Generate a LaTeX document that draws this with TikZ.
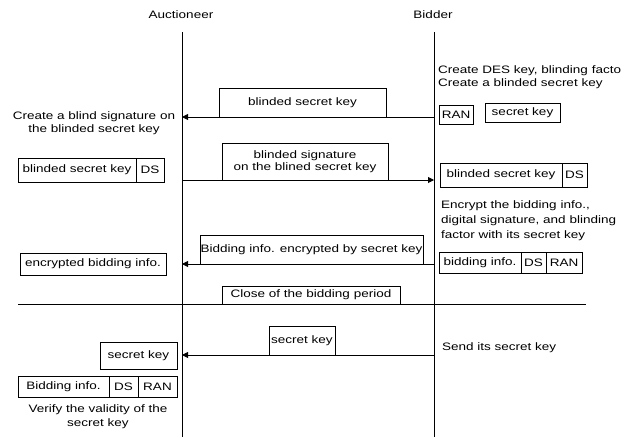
\documentclass[tikz,border=0pt]{standalone}
\usepackage{fontspec}
\setmainfont{Liberation Sans}[FakeStretch=1.25]
\usetikzlibrary{arrows.meta}

\begin{document}
\begin{tikzpicture}[x=1pt, y=-1pt,
    txt/.style={inner sep=0pt, font=\fontsize{10.8}{14}\selectfont},
    cell/.style={draw, line width=0.9pt, inner sep=0pt, fill=white,
                 font=\fontsize{10.8}{13}\selectfont},
    life/.style={line width=0.9pt},
    msg/.style={line width=0.9pt, -{Triangle[length=6pt,width=6pt]}},
  ]
  \useasboundingbox (0,0) rectangle (624,437);

  % participants and lifelines
  \node[txt] (auct) at (181,15) {Auctioneer};
  \node[txt] (bidd) at (433,15) {Bidder};
  \coordinate (aTop) at (182,32);
  \coordinate (aBot) at (182,437);
  \coordinate (bTop) at (434,32);
  \coordinate (bBot) at (434,437);
  \draw[life] (aTop) -- (aBot);
  \draw[life] (bTop) -- (bBot);

  % message end points on the lifelines
  \coordinate (b1) at (434,117); \coordinate (a1) at (182,117);
  \coordinate (a2) at (182,180); \coordinate (b2) at (434,180);
  \coordinate (b3) at (434,264); \coordinate (a3) at (182,264);
  \coordinate (b4) at (434,355); \coordinate (a4) at (182,355);

  % separator at the close of the bidding period
  \coordinate (sepL) at (18,304);
  \coordinate (sepR) at (586,304);
  \draw[life] (sepL) -- (sepR);

  % messages
  \draw[msg] (b1) -- (a1);
  \draw[msg] (a2) -- (b2);
  \draw[msg] (b3) -- (a3);
  \draw[msg] (b4) -- (a4);

  % message labels
  \node[cell, minimum width=167, minimum height=29] (m1) at (302.5,102.5) {blinded secret key};
  \node[cell, minimum width=166, minimum height=37, align=center,
        font=\fontsize{10.8}{12.5}\selectfont] (m2) at (305,161.5)
        {blinded signature\\on the blined secret key};
  \node[cell, minimum width=223, minimum height=29] (m3) at (311.5,249.5) {Bidding info. encrypted by secret key};
  \node[cell, minimum width=178, minimum height=18] (close) at (311,295) {Close of the bidding period};
  \node[cell, minimum width=66, minimum height=29] (m4) at (302,340.5) {secret key};

  % bidder side
  \node[txt, anchor=west, align=left, font=\fontsize{10.8}{13}\selectfont] (desTxt) at (438,77.5)
        {Create DES key, blinding facto\\Create a blinded secret key};
  \node[cell, minimum width=34, minimum height=19] (ran1) at (456,114.5) {RAN};
  \node[cell, minimum width=75, minimum height=19] (sk1) at (522.5,113) {secret key};

  \node[cell, minimum width=122, minimum height=24] (r1a) at (501,175) {blinded secret key};
  \node[cell, minimum width=25, minimum height=24] (r1b) at (574.5,175) {DS};

  \node[txt, anchor=west, align=left, font=\fontsize{10.8}{15}\selectfont] (encTxt) at (441,221)
        {Encrypt the bidding info.,\\digital signature, and blinding\\factor with its secret key};

  \node[cell, minimum width=82, minimum height=21] (r2a) at (480,262.5) {bidding info.};
  \node[cell, minimum width=25, minimum height=21] (r2b) at (533.5,262.5) {DS};
  \node[cell, minimum width=36, minimum height=21] (r2c) at (564,262.5) {RAN};

  \node[txt, anchor=west] (sendTxt) at (442,348) {Send its secret key};

  % auctioneer side
  \node[txt, align=center, font=\fontsize{10.8}{13}\selectfont] (blindTxt) at (94,123.5)
        {Create a blind signature on\\the blinded secret key};

  \node[cell, minimum width=118, minimum height=24] (l1a) at (77,170) {blinded secret key};
  \node[cell, minimum width=28, minimum height=24] (l1b) at (150,170) {DS};

  \node[cell, minimum width=146, minimum height=22] (l2) at (93,264) {encrypted bidding info.};

  \node[cell, minimum width=77, minimum height=27] (l3) at (138.5,355.5) {secret key};

  \node[cell, minimum width=91, minimum height=21] (l4a) at (63.5,386.5) {Bidding info.};
  \node[cell, minimum width=29, minimum height=21] (l4b) at (123.5,386.5) {DS};
  \node[cell, minimum width=39, minimum height=21] (l4c) at (157.5,386.5) {RAN};

  \node[txt, align=center, font=\fontsize{10.8}{14}\selectfont] (verTxt) at (98,417)
        {Verify the validity of the\\secret key};
\end{tikzpicture}
\end{document}
